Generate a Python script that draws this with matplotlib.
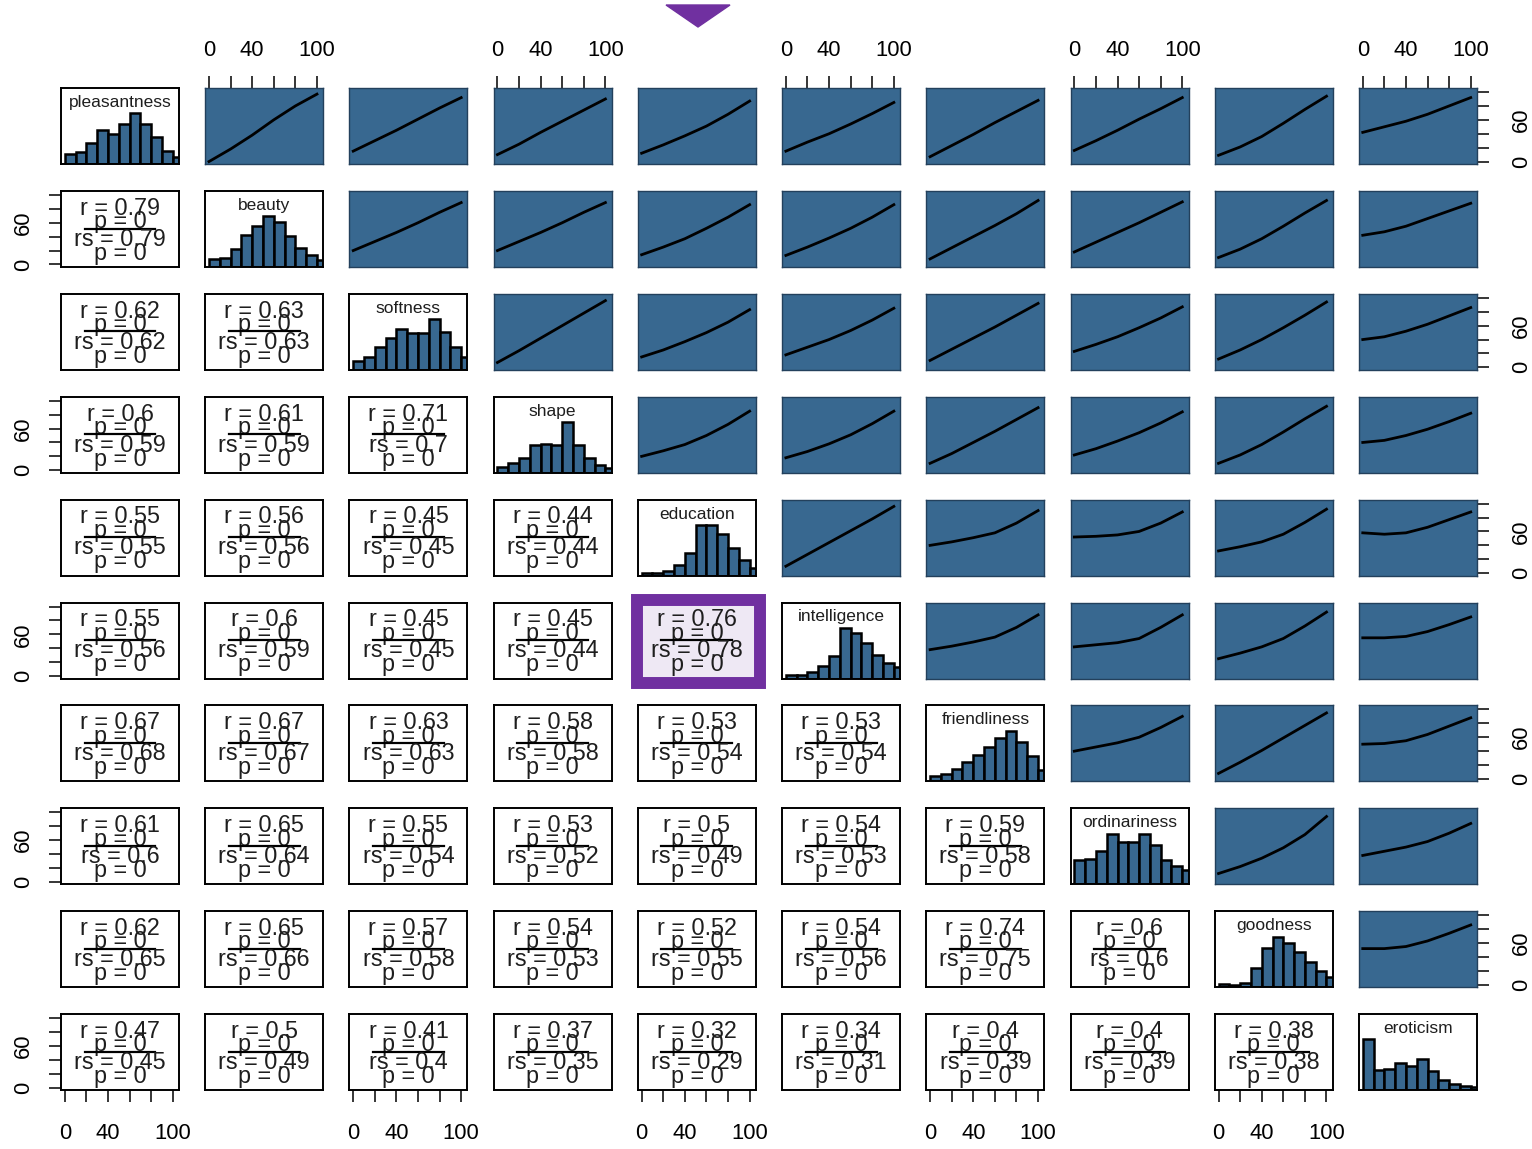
import numpy as np
import matplotlib
matplotlib.use('Agg')
import matplotlib.pyplot as plt
from matplotlib.patches import Rectangle, Polygon

plt.rcParams['font.family'] = ['Liberation Sans', 'DejaVu Sans']

variables = ['pleasantness', 'beauty', 'softness', 'shape', 'education',
             'intelligence', 'friendliness', 'ordinariness', 'goodness', 'eroticism']

# histogram counts (bins of width 10 starting at 0), scaled to the tallest bar when drawn
hist_edges = np.arange(0, 111, 10)
hist_pleasantness = [29, 35, 62, 102, 90, 117, 150, 117, 79, 39, 20]
hist_beauty = [22, 27, 52, 94, 120, 149, 132, 92, 56, 34, 20]
hist_softness = [18, 25, 45, 62, 80, 72, 72, 100, 75, 45, 25]
hist_shape = [12, 20, 30, 55, 57, 55, 100, 55, 30, 15, 10]
hist_education = [5, 6, 10, 20, 45, 100, 100, 82, 55, 30, 15]
hist_intelligence = [10, 10, 19, 39, 69, 154, 137, 107, 72, 47, 34]
hist_friendliness = [10, 14, 25, 38, 52, 68, 86, 100, 78, 50, 22]
hist_ordinariness = [73, 77, 103, 155, 130, 130, 155, 120, 75, 57, 43]
hist_goodness = [6, 5, 8, 38, 78, 100, 87, 70, 50, 32, 20]
hist_eroticism = [150, 60, 63, 80, 70, 91, 56, 30, 18, 13, 9]
hists = [hist_pleasantness, hist_beauty, hist_softness, hist_shape, hist_education,
         hist_intelligence, hist_friendliness, hist_ordinariness, hist_goodness,
         hist_eroticism]

# loess fits evaluated at loess_x; one list per row variable, for the columns right of the diagonal
loess_x = [0, 20, 40, 60, 80, 100]
fit_pleasantness = [[0, 18, 38, 60, 80, 97], [15, 30, 45, 61, 77, 92],
                    [10, 25, 42, 58, 74, 90], [12, 24, 37, 51, 68, 87],
                    [15, 28, 40, 54, 69, 85], [7, 23, 39, 56, 72, 88],
                    [16, 30, 45, 61, 76, 92], [9, 21, 36, 55, 75, 94],
                    [42, 50, 58, 68, 80, 92]]
fit_beauty = [[20, 33, 46, 60, 75, 89], [20, 33, 46, 60, 75, 89],
              [14, 25, 37, 52, 68, 86], [13, 25, 38, 52, 68, 86],
              [8, 24, 40, 56, 73, 92], [18, 32, 46, 60, 75, 90],
              [10, 22, 37, 55, 74, 92], [42, 47, 55, 66, 77, 88]]
fit_softness = [[7, 24, 42, 60, 78, 96], [15, 25, 37, 50, 65, 83],
                [18, 29, 40, 53, 68, 85], [10, 26, 42, 58, 75, 92],
                [23, 33, 44, 57, 71, 87], [12, 25, 40, 57, 75, 94],
                [40, 44, 52, 62, 74, 86]]
fit_shape = [[20, 28, 37, 50, 66, 85], [18, 27, 38, 51, 67, 85],
             [10, 24, 40, 56, 73, 90], [22, 31, 42, 54, 68, 84],
             [10, 22, 37, 55, 74, 92], [40, 43, 50, 59, 70, 82]]
fit_education = [[10, 27, 44, 61, 78, 96], [40, 45, 51, 58, 72, 90],
                 [52, 53, 55, 60, 72, 88], [32, 38, 45, 56, 73, 92],
                 [58, 56, 58, 66, 77, 88]]
fit_intelligence = [[38, 43, 49, 56, 70, 88], [42, 45, 48, 54, 70, 88],
                    [25, 33, 42, 54, 72, 92], [55, 55, 57, 64, 74, 85]]
fit_friendliness = [[40, 46, 52, 60, 74, 90], [8, 24, 41, 59, 77, 95],
                    [50, 51, 55, 64, 76, 88]]
fit_ordinariness = [[12, 22, 34, 49, 68, 94], [38, 44, 50, 58, 70, 84]]
fit_goodness = [[52, 52, 55, 63, 74, 86]]
fits = [fit_pleasantness, fit_beauty, fit_softness, fit_shape, fit_education,
        fit_intelligence, fit_friendliness, fit_ordinariness, fit_goodness]

# Pearson r and Spearman rs, lower triangle rows (beauty .. eroticism)
pearson_r = [[0.79],
             [0.62, 0.63],
             [0.6, 0.61, 0.71],
             [0.55, 0.56, 0.45, 0.44],
             [0.55, 0.6, 0.45, 0.45, 0.76],
             [0.67, 0.67, 0.63, 0.58, 0.53, 0.53],
             [0.61, 0.65, 0.55, 0.53, 0.5, 0.54, 0.59],
             [0.62, 0.65, 0.57, 0.54, 0.52, 0.54, 0.74, 0.6],
             [0.47, 0.5, 0.41, 0.37, 0.32, 0.34, 0.4, 0.4, 0.38]]
spearman_rs = [[0.79],
               [0.62, 0.63],
               [0.59, 0.59, 0.7],
               [0.55, 0.56, 0.45, 0.44],
               [0.56, 0.59, 0.45, 0.44, 0.78],
               [0.68, 0.67, 0.63, 0.58, 0.54, 0.54],
               [0.6, 0.64, 0.54, 0.52, 0.49, 0.53, 0.58],
               [0.65, 0.66, 0.58, 0.53, 0.55, 0.56, 0.75, 0.6],
               [0.45, 0.49, 0.4, 0.35, 0.29, 0.31, 0.39, 0.39, 0.38]]

highlight = (5, 4)  # intelligence vs education
ticks = [0, 20, 40, 60, 80, 100]
x_ticklabels = ['0', '', '40', '', '', '100']
y_ticklabels = ['0', '', '', '60', '', '']

BLUE = '#386890'
PURPLE = '#7030A0'
LAVENDER = '#EEE8F4'
TXT = '#1e1e1e'
LIM = (-3.5, 105.8)

W, H = 1532, 1149
fig = plt.figure(figsize=(W / 100, H / 100), dpi=100)
n = len(variables)
pw, ph = 118, 76


def panel(i, j):
    x0 = 61 + 144.22 * j
    y0 = 88 + 102.9 * i
    return fig.add_axes([x0 / W, 1 - (y0 + ph) / H, pw / W, ph / H])


def fmt(v):
    return f'{v:g}'


tick_kw = dict(length=8.6, width=1.1, labelsize=15.8, colors='black')

for i in range(n):
    for j in range(n):
        ax = panel(i, j)
        ax.set_xlim(LIM)
        ax.set_xticks([])
        ax.set_yticks([])
        for s in ax.spines.values():
            s.set_linewidth(1.4)
            s.set_color('black')

        if i == j:
            counts = np.array(hists[i], dtype=float)
            ax.bar(hist_edges[:-1], counts / counts.max(), width=10, align='edge',
                   color=BLUE, edgecolor='black', linewidth=1.8)
            ax.set_ylim(0, 1.5)
            ax.text(0.5, 0.81, variables[i], transform=ax.transAxes, ha='center',
                    va='center', fontsize=12.5, color=TXT)
            continue

        ax.set_ylim(LIM)
        if i < j:
            ax.set_facecolor(BLUE)
            for s in ax.spines.values():
                s.set_linewidth(1.0)
                s.set_color('#23405c')
            ax.plot(loess_x, fits[i][j - i - 1], color='black', lw=2.0)
        else:
            r = pearson_r[i - 1][j]
            rs = spearman_rs[i - 1][j]
            z = 3
            if (i, j) == highlight:
                ax.set_zorder(2)
                ax.set_facecolor(LAVENDER)
                for s in ax.spines.values():
                    s.set_visible(False)
                ax.add_patch(Rectangle((-0.0085, -0.053), 1.0425, 1.092,
                                       transform=ax.transAxes, fill=False,
                                       edgecolor=PURPLE, linewidth=8.6,
                                       joinstyle='miter', clip_on=False, zorder=1))
            ax.text(0.5, 0.772, f'r = {fmt(r)}', transform=ax.transAxes, ha='center',
                    va='center', fontsize=16.8, color=TXT, zorder=z)
            ax.text(0.5, 0.596, 'p = 0', transform=ax.transAxes, ha='center',
                    va='center', fontsize=16.8, color=TXT, zorder=z)
            ax.plot([0.2, 0.8], [0.504, 0.504], transform=ax.transAxes, color='black',
                    lw=1.6, zorder=z)
            ax.text(0.5, 0.364, f'rs = {fmt(rs)}', transform=ax.transAxes, ha='center',
                    va='center', fontsize=16.8, color=TXT, zorder=z)
            ax.text(0.5, 0.18, 'p = 0', transform=ax.transAxes, ha='center',
                    va='center', fontsize=16.8, color=TXT, zorder=z)

        # outer axes alternate between sides like a pairs() matrix
        if i == 0 and j % 2 == 1:
            ax.set_xticks(ticks)
            ax.set_xticklabels(x_ticklabels)
            ax.tick_params(axis='x', top=True, labeltop=True, bottom=False,
                           labelbottom=False, pad=11, **tick_kw)
        if i == n - 1 and j % 2 == 0:
            ax.set_xticks(ticks)
            ax.set_xticklabels(x_ticklabels)
            ax.tick_params(axis='x', bottom=True, labelbottom=True, pad=15, **tick_kw)
        if j == 0 and i % 2 == 1:
            ax.set_yticks(ticks)
            ax.set_yticklabels(y_ticklabels, rotation=90, va='center')
            ax.tick_params(axis='y', left=True, labelleft=True, pad=11, **tick_kw)
        if j == n - 1 and i % 2 == 0:
            ax.set_yticks(ticks)
            ax.set_yticklabels(y_ticklabels, rotation=90, va='center')
            ax.tick_params(axis='y', right=True, labelright=True, left=False,
                           labelleft=False, pad=16, **tick_kw)

# marker above the highlighted column
fig.add_artist(Polygon([(666 / W, 1 - 5 / H), (730 / W, 1 - 5 / H), (698 / W, 1 - 27 / H)],
                       closed=True, transform=fig.transFigure, color=PURPLE))

fig.savefig('out.png', dpi=100)
plt.close(fig)
